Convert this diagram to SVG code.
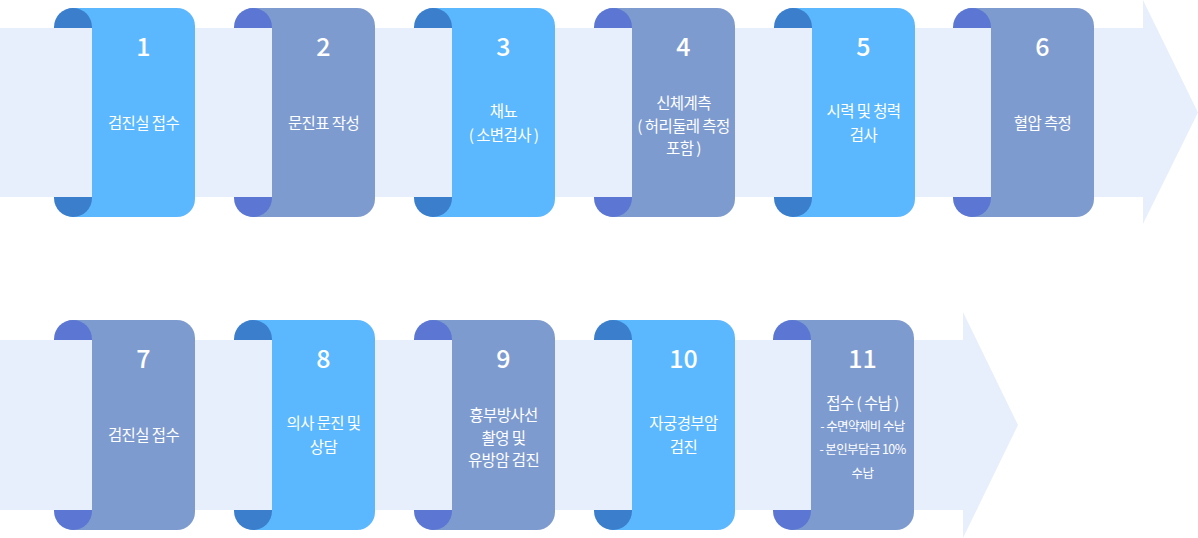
<svg xmlns="http://www.w3.org/2000/svg" width="1198" height="538" viewBox="0 0 1198 538">
<defs>
<style>
.band{fill:#E7EFFD}
.lt{fill:#5CB8FE}
.ltc{fill:#3B7ECC}
.sl{fill:#7E9BD0}
.slc{fill:#5B77D3}
.num{font-family:"Noto Sans CJK KR","Noto Sans",sans-serif;font-size:25px;font-weight:500;fill:#fff;text-anchor:middle}
.t{font-family:"Noto Sans CJK KR","Noto Sans",sans-serif;font-size:15.5px;fill:#fff;text-anchor:middle;letter-spacing:-0.6px}
.s{font-family:"Noto Sans CJK KR","Noto Sans",sans-serif;font-size:12.5px;fill:#fff;text-anchor:middle;letter-spacing:-0.6px}
</style>
</defs>
<rect width="1198" height="538" fill="#fff"/>
<g id="connectors">
<polygon class="band" points="0,28 1143,28 1143,0 1198,112.5 1143,224 1143,197 0,197"/>
<polygon class="band" points="0,340 963,340 963,312 1018,425 963,538 963,510 0,510"/>
</g>
<g id="card1"><rect class="lt" x="56" y="8" width="139" height="209" rx="18"/><rect class="ltc" x="54" y="8" width="38" height="209" rx="19"/><rect class="band" x="54" y="28" width="38" height="169"/>
<text class="num" x="143.5" y="56">1</text><text class="t" x="143.5" y="129">검진실 접수</text></g>
<g id="card2"><rect class="sl" x="236" y="8" width="139" height="209" rx="18"/><rect class="slc" x="234" y="8" width="38" height="209" rx="19"/><rect class="band" x="234" y="28" width="38" height="169"/>
<text class="num" x="323.5" y="56">2</text><text class="t" x="323.5" y="129">문진표 작성</text></g>
<g id="card3"><rect class="lt" x="416" y="8" width="139" height="209" rx="18"/><rect class="ltc" x="414" y="8" width="38" height="209" rx="19"/><rect class="band" x="414" y="28" width="38" height="169"/>
<text class="num" x="503.5" y="56">3</text><text class="t" x="503.5" y="117">채뇨</text><text class="t" x="503.5" y="141">( 소변검사 )</text></g>
<g id="card4"><rect class="sl" x="596" y="8" width="139" height="209" rx="18"/><rect class="slc" x="594" y="8" width="38" height="209" rx="19"/><rect class="band" x="594" y="28" width="38" height="169"/>
<text class="num" x="683.5" y="56">4</text><text class="t" x="683.5" y="108.5">신체계측</text><text class="t" x="683.5" y="131.5">( 허리둘레 측정</text><text class="t" x="683.5" y="154">포함 )</text></g>
<g id="card5"><rect class="lt" x="776" y="8" width="139" height="209" rx="18"/><rect class="ltc" x="774" y="8" width="38" height="209" rx="19"/><rect class="band" x="774" y="28" width="38" height="169"/>
<text class="num" x="863.5" y="56">5</text><text class="t" x="863.5" y="117">시력 및 청력</text><text class="t" x="863.5" y="141">검사</text></g>
<g id="card6"><rect class="sl" x="955" y="8" width="139" height="209" rx="18"/><rect class="slc" x="953" y="8" width="38" height="209" rx="19"/><rect class="band" x="953" y="28" width="38" height="169"/>
<text class="num" x="1042.5" y="56">6</text><text class="t" x="1042.5" y="129">혈압 측정</text></g>
<g id="card7"><rect class="sl" x="56" y="320" width="139" height="210" rx="18"/><rect class="slc" x="54" y="320" width="38" height="210" rx="19"/><rect class="band" x="54" y="340" width="38" height="170"/>
<text class="num" x="143.5" y="368">7</text><text class="t" x="143.5" y="441">검진실 접수</text></g>
<g id="card8"><rect class="lt" x="236" y="320" width="139" height="210" rx="18"/><rect class="ltc" x="234" y="320" width="38" height="210" rx="19"/><rect class="band" x="234" y="340" width="38" height="170"/>
<text class="num" x="323.5" y="368">8</text><text class="t" x="323.5" y="429">의사 문진 및</text><text class="t" x="323.5" y="453">상담</text></g>
<g id="card9"><rect class="sl" x="416" y="320" width="139" height="210" rx="18"/><rect class="slc" x="414" y="320" width="38" height="210" rx="19"/><rect class="band" x="414" y="340" width="38" height="170"/>
<text class="num" x="503.5" y="368">9</text><text class="t" x="503.5" y="420.5">흉부방사선</text><text class="t" x="503.5" y="443.5">촬영 및</text><text class="t" x="503.5" y="466">유방암 검진</text></g>
<g id="card10"><rect class="lt" x="596" y="320" width="139" height="210" rx="18"/><rect class="ltc" x="594" y="320" width="38" height="210" rx="19"/><rect class="band" x="594" y="340" width="38" height="170"/>
<text class="num" x="683.5" y="368">10</text><text class="t" x="683.5" y="429">자궁경부암</text><text class="t" x="683.5" y="453">검진</text></g>
<g id="card11"><rect class="sl" x="776" y="320" width="138" height="210" rx="18"/><rect class="slc" x="773" y="320" width="38" height="210" rx="19"/><rect class="band" x="773" y="340" width="38" height="170"/>
<text class="num" x="862.5" y="368">11</text><text class="t" x="862.5" y="409">접수 ( 수납 )</text><text class="s" x="862.5" y="430.5">- 수면약제비 수납</text><text class="s" x="862.5" y="454">- 본인부담금 10%</text><text class="s" x="862.5" y="477.5">수납</text></g>
</svg>
